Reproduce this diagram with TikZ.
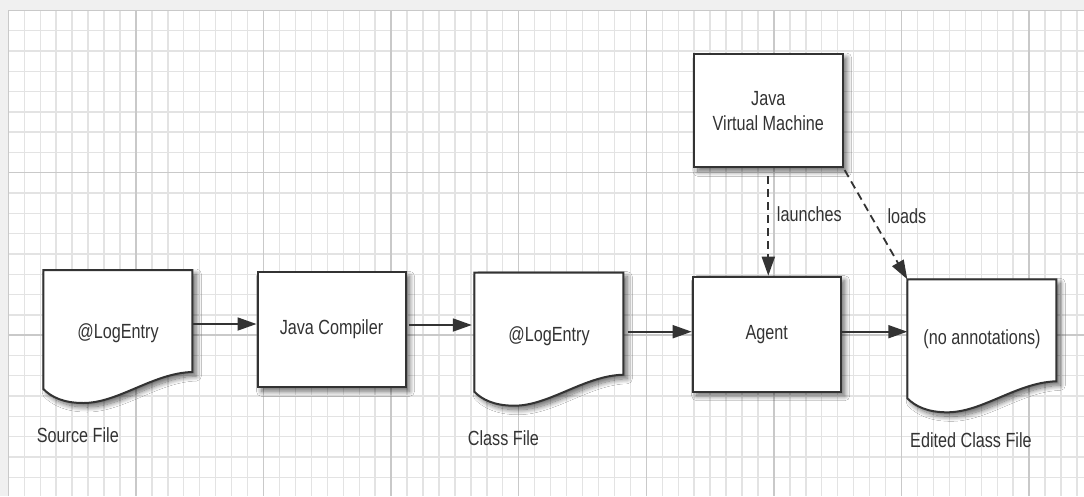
\documentclass[tikz,border=0pt]{standalone}
\usepackage{fontspec}
\setmainfont{Liberation Sans}[FakeStretch=0.79]
\usetikzlibrary{arrows.meta,shadows.blur,calc}
\definecolor{ink}{HTML}{333333}
\definecolor{minorgrid}{HTML}{E3E3E3}
\definecolor{majorgrid}{HTML}{C9C9C9}
\definecolor{paperbg}{HTML}{F0F0F0}
\newcommand\docoutline[1]{%
  \path[docline] (#1) -- ($(#1)+(149,0)$) -- ($(#1)+(149,102)$)
    .. controls ($(#1)+(110,103)$) and ($(#1)+(75,133)$) .. ($(#1)+(40,133)$)
    .. controls ($(#1)+(20,133)$) and ($(#1)+(8,127)$) .. ($(#1)+(0,119)$) -- cycle;}
\begin{document}
\begin{tikzpicture}[x=1pt,y=-1pt,
  every node/.style={font=\fontsize{20.5}{25}\selectfont, text=ink},
  oneline/.style={text height=14.7pt, text depth=5pt},
  shad/.style={blur shadow={shadow xshift=4pt, shadow yshift=-4pt, shadow opacity=60, shadow blur radius=5pt, shadow blur steps=12}},
  box/.style={draw=ink, line width=2pt, fill=white, minimum width=148pt, minimum height=115pt, inner sep=0pt, shad},
  doc/.style={oneline, minimum width=149pt, minimum height=127pt, inner sep=0pt, anchor=north west},
  docline/.style={draw=ink, line width=2pt, fill=white, shad},
  arr/.style={draw=ink, line width=1.8pt, -{Triangle[length=19pt,width=13pt]}},
  darr/.style={arr, dash pattern=on 8pt off 5pt},
  lbl/.style={anchor=base west, inner sep=0pt},
  minorline/.style={draw=minorgrid, line width=1.4pt},
  majorline/.style={draw=majorgrid, line width=1.4pt}]
\useasboundingbox (0,0) rectangle (1084,496);
\fill[paperbg] (0,0) rectangle (1084,496);
\fill[white] (8.3,10.3) rectangle (1084,496);
\foreach \k in {0,...,67} \draw[minorline] ({8.3+15.95*\k},10.3) -- ({8.3+15.95*\k},496);
\foreach \k in {0,...,23} \draw[minorline] (8.3,{10.3+20.3*\k}) -- (1084,{10.3+20.3*\k});
\foreach \k in {0,8,...,64} \draw[majorline] ({8.3+15.95*\k},10.3) -- ({8.3+15.95*\k},496);
\foreach \k in {0,8,16} \draw[majorline] (8.3,{10.3+20.3*\k}) -- (1084,{10.3+20.3*\k});

\coordinate (srcNW) at (43.3,270);
\coordinate (clsNW) at (474.3,272.7);
\coordinate (edtNW) at (907.3,279.3);
\docoutline{srcNW}
\docoutline{clsNW}
\docoutline{edtNW}
\node[doc] (src) at (srcNW) {@LogEntry};
\node[doc] (cls) at (clsNW) {@LogEntry};
\node[doc, minimum height=120pt] (edt) at (edtNW) {(no annotations)};

\node[box, oneline] (comp) at (331.5,329.8) {Java Compiler};
\node[box, oneline] (agent) at (766.7,334.2) {Agent};
\node[box, minimum width=148.7pt, minimum height=113.3pt, align=center] (jvm) at (768.3,110.7) {Java\\Virtual Machine};

\draw[arr] (src.east |- 0,324) -- (comp.west |- 0,324);
\draw[arr, shorten <=2pt, shorten >=2.5pt] (comp.east |- 0,325) -- (cls.west |- 0,325);
\draw[arr, shorten <=4pt] (cls.east |- 0,331.7) -- (agent.west |- 0,331.7);
\draw[arr] (agent.east |- 0,331.7) -- (edt.west |- 0,331.7);
\draw[darr, shorten <=8pt] (jvm.south) -- (jvm.south |- agent.north);
\draw[darr, shorten <=2pt] (jvm.south east) -- (edt.north west);

\node[lbl] (l1) at (776.7,221) {launches};
\node[lbl] (l2) at (887.3,223) {loads};
\node[lbl] (s1) at (36.7,442.3) {Source File};
\node[lbl] (s2) at (467.7,445) {Class File};
\node[lbl] (s3) at (910,447) {Edited Class File};
\end{tikzpicture}
\end{document}
